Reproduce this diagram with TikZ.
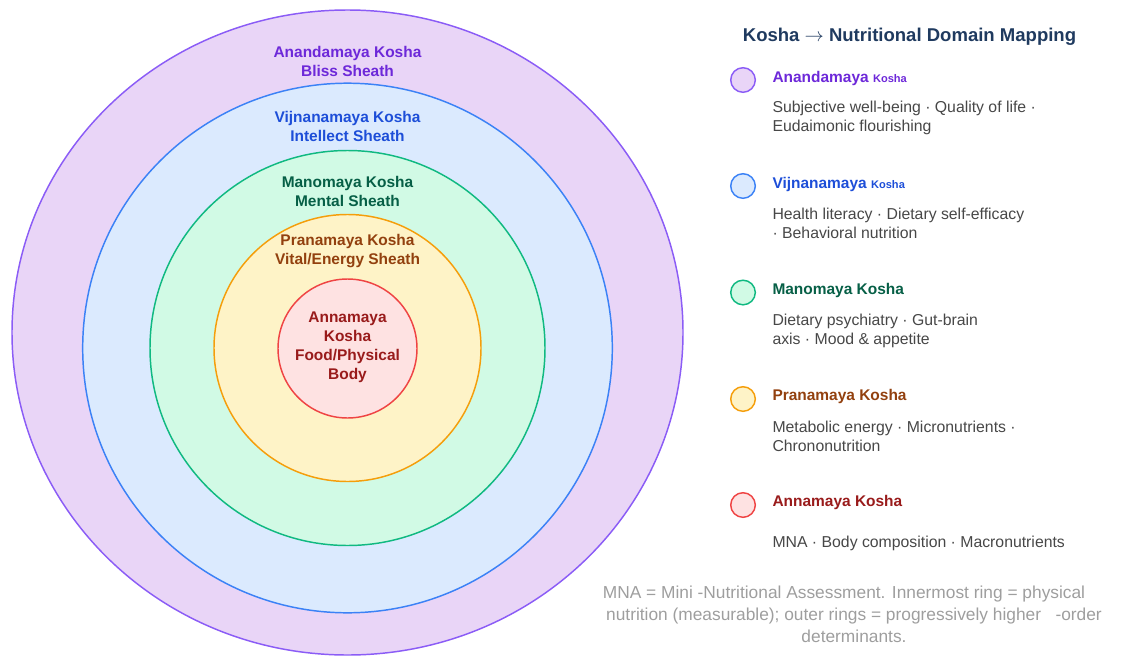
\documentclass[tikz,border=0pt]{standalone}
\usepackage{fontspec}
\setmainfont{Liberation Sans}

\definecolor{anandaBg}{HTML}{E9D5F7}
\definecolor{anandaLn}{HTML}{8B5CF6}
\definecolor{anandaTx}{HTML}{6D28D9}
\definecolor{vijnanaBg}{HTML}{DBEAFE}
\definecolor{vijnanaLn}{HTML}{3B82F6}
\definecolor{vijnanaTx}{HTML}{1D4ED8}
\definecolor{manoBg}{HTML}{D1FAE5}
\definecolor{manoLn}{HTML}{10B981}
\definecolor{manoTx}{HTML}{065F46}
\definecolor{pranaBg}{HTML}{FEF3C7}
\definecolor{pranaLn}{HTML}{F59E0B}
\definecolor{pranaTx}{HTML}{92400E}
\definecolor{annaBg}{HTML}{FEE2E2}
\definecolor{annaLn}{HTML}{EF4444}
\definecolor{annaTx}{HTML}{991B1B}
\definecolor{headTx}{HTML}{1F3A5F}
\definecolor{descTx}{HTML}{474747}
\definecolor{noteTx}{HTML}{9E9E9E}

\tikzset{every picture/.style={line width=0.75pt}}
\tikzset{
  sheath/.style={line width=1.1pt},
  ringlbl/.style={anchor=center, inner sep=0.75pt, align=center, font=\fontsize{11.6}{14.25}\selectfont\bfseries},
  legtitle/.style={anchor=west, inner sep=0.75pt, font=\fontsize{11.6}{14}\selectfont\bfseries},
  legdesc/.style={anchor=west, inner sep=0.75pt, align=left, text=descTx, font=\fontsize{11.85}{14.25}\selectfont},
  notelbl/.style={anchor=center, inner sep=0.75pt, align=center, text=noteTx, font=\fontsize{13}{16.5}\selectfont}
}
\newcommand{\smallkosha}{{\fontsize{8.3}{10}\selectfont Kosha}}

\begin{document}
\begin{tikzpicture}[x=0.75pt,y=0.75pt,yscale=-1,xscale=1]
\useasboundingbox (0,0) rectangle (1129,657);

%Shape: Ellipse (outer sheath)
\draw [sheath, draw=anandaLn, fill=anandaBg] (347.5,332.5) ellipse (335.5 and 322.5);
%Shape: Circle
\draw [sheath, draw=vijnanaLn, fill=vijnanaBg] (347.5,348) circle (264.8);
%Shape: Circle
\draw [sheath, draw=manoLn, fill=manoBg] (347.5,348) circle (197.5);
%Shape: Circle
\draw [sheath, draw=pranaLn, fill=pranaBg] (347.5,348) circle (133.5);
%Shape: Circle
\draw [sheath, draw=annaLn, fill=annaBg] (347.5,348.5) circle (69.5);

% Text Node
\draw (347.5,61.3) node [ringlbl, text=anandaTx] (ringAnanda) {Anandamaya Kosha\\Bliss Sheath};
% Text Node
\draw (347.5,126.2) node [ringlbl, text=vijnanaTx] (ringVijnana) {Vijnanamaya Kosha\\Intellect Sheath};
% Text Node
\draw (347.5,191.8) node [ringlbl, text=manoTx] (ringMano) {Manomaya Kosha\\Mental Sheath};
% Text Node
\draw (347.5,251.3) node [ringlbl, text=pranaTx] (ringPrana) {Pranamaya Kosha\\Vital/Energy Sheath};
% Text Node
\draw (347.5,347.3) node [ringlbl, text=annaTx] (ringAnna) {Annamaya\\Kosha\\Food/Physical\\Body};

% Text Node
\draw (909.5,37) node [anchor=center][inner sep=0.75pt] [font=\fontsize{13.9}{16}\selectfont\bfseries, text=headTx] (legHead) {Kosha $\rightarrow$ Nutritional Domain Mapping};

%Shape: Circle
\draw [sheath, draw=anandaLn, fill=anandaBg] (743,80) circle (12.3);
%Shape: Circle
\draw [sheath, draw=vijnanaLn, fill=vijnanaBg] (743,186) circle (12.3);
%Shape: Circle
\draw [sheath, draw=manoLn, fill=manoBg] (743,292.5) circle (12.3);
%Shape: Circle
\draw [sheath, draw=pranaLn, fill=pranaBg] (743,399) circle (12.3);
%Shape: Circle
\draw [sheath, draw=annaLn, fill=annaBg] (743,505) circle (12.3);

% Text Node
\draw (771,78.5) node [legtitle, text=anandaTx] (legAnanda) {Anandamaya \smallkosha};
% Text Node
\draw (771,184.5) node [legtitle, text=vijnanaTx] (legVijnana) {Vijnanamaya \smallkosha};
% Text Node
\draw (771,290.5) node [legtitle, text=manoTx] (legMano) {Manomaya Kosha};
% Text Node
\draw (771,396.5) node [legtitle, text=pranaTx] (legPrana) {Pranamaya Kosha};
% Text Node
\draw (771,502.5) node [legtitle, text=annaTx] (legAnna) {Annamaya Kosha};

% Text Node
\draw (771,117.5) node [legdesc] (descAnanda) {Subjective well-being · Quality of life ·\\Eudaimonic flourishing};
% Text Node
\draw (771,223) node [legdesc] (descVijnana) {Health literacy · Dietary self-efficacy\\· Behavioral nutrition};
% Text Node
\draw (771,330.5) node [legdesc] (descMano) {Dietary psychiatry · Gut-brain\\axis · Mood \& appetite};
% Text Node
\draw (771,436) node [legdesc] (descPrana) {Metabolic energy · Micronutrients ·\\Chrononutrition};
% Text Node
\draw (771,543) node [legdesc] (descAnna) {MNA · Body composition · Macronutrients};

% Text Node
\draw (854,614) node [notelbl] (footNote) {MNA = Mini -Nutritional Assessment. Innermost ring = physical\hspace*{15pt}\\nutrition (measurable); outer rings = progressively higher~~~-order\\determinants.};

\end{tikzpicture}
\end{document}
